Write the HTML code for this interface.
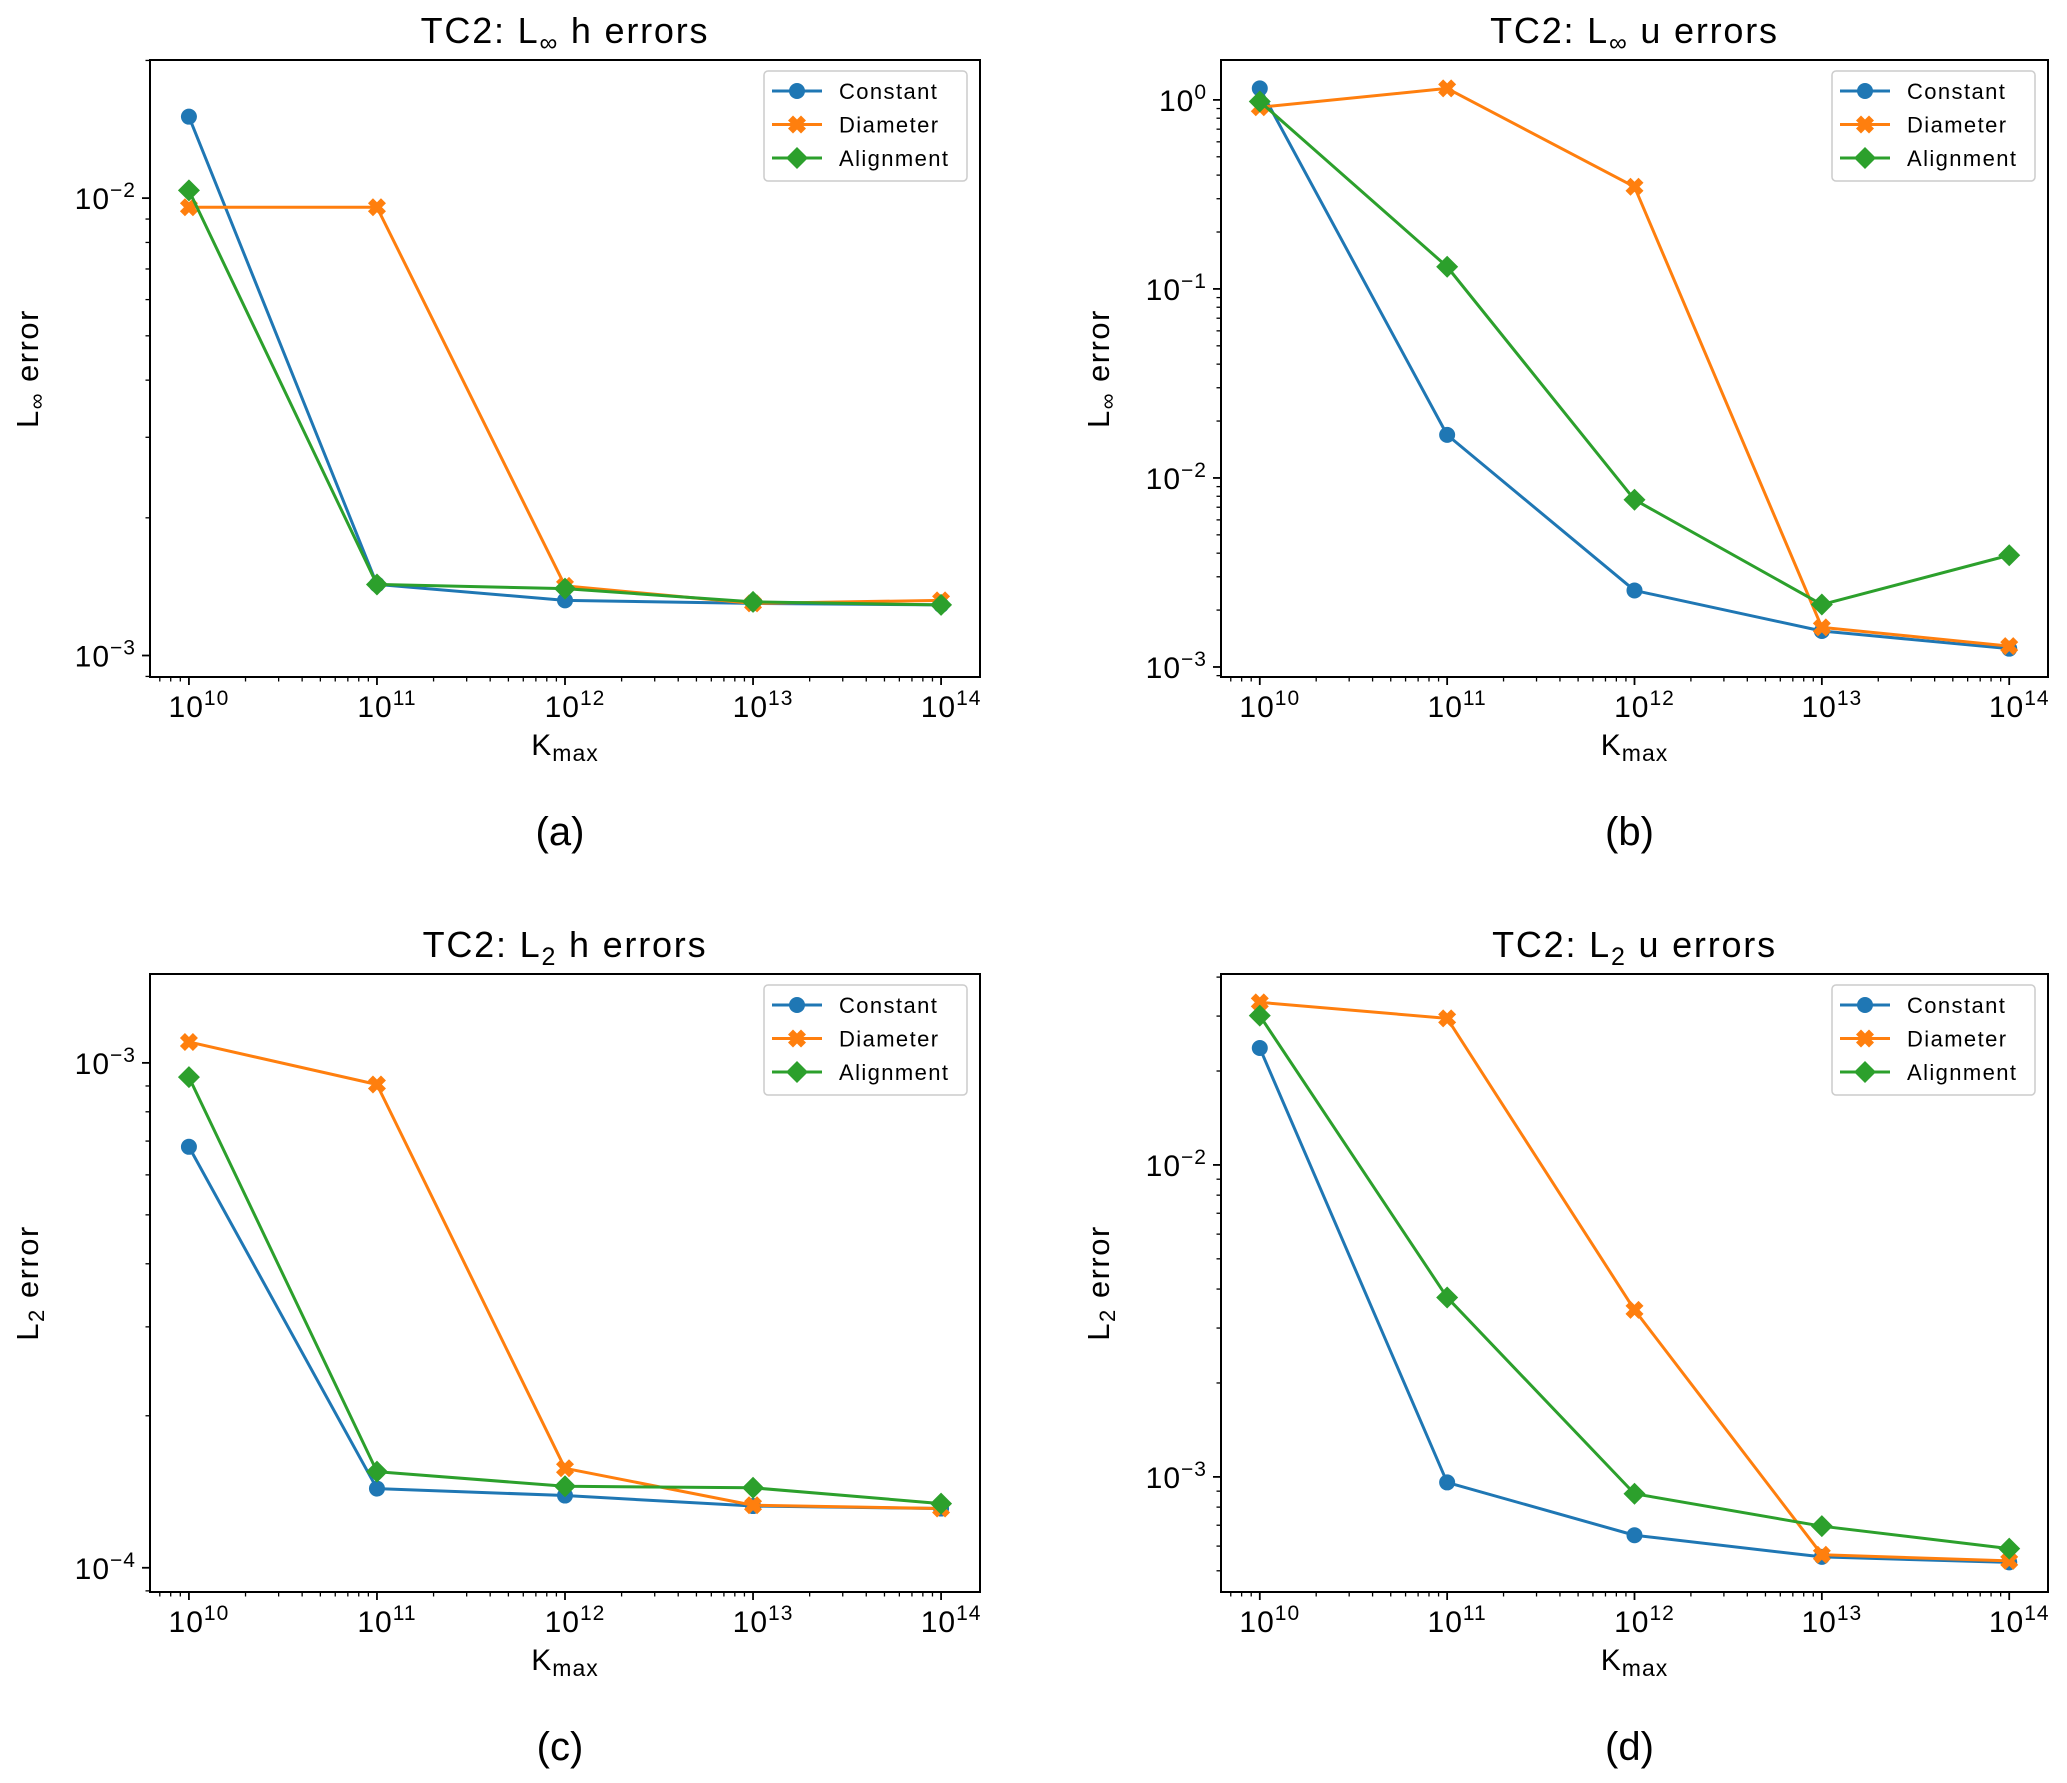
<!DOCTYPE html>
<html><head><meta charset="utf-8"><style>
html,body{margin:0;padding:0;background:#fff;}
svg{display:block;font-family:"Liberation Sans",sans-serif;}
</style></head><body>
<svg id="fig" width="2067" height="1783" viewBox="0 0 2067 1783" xmlns="http://www.w3.org/2000/svg">
<rect width="2067" height="1783" fill="#fff"/>
</svg>
<script>
// data
const kExponents = [10, 11, 12, 13, 14];
const seriesNames = ["Constant", "Diameter", "Alignment"];
// panel (a) L-inf h
const aConstant = [0.01507, 1.43e-3, 1.32e-3, 1.30e-3, 1.29e-3];
const aDiameter = [9.55e-3, 9.55e-3, 1.42e-3, 1.30e-3, 1.32e-3];
const aAlignment = [0.0104, 1.43e-3, 1.40e-3, 1.31e-3, 1.29e-3];
// panel (b) L-inf u
const bConstant = [1.15, 0.0169, 2.54e-3, 1.55e-3, 1.25e-3];
const bDiameter = [0.914, 1.15, 0.347, 1.62e-3, 1.29e-3];
const bAlignment = [0.98, 0.131, 7.67e-3, 2.14e-3, 3.9e-3];
// panel (c) L2 h
const cConstant = [6.82e-4, 1.435e-4, 1.39e-4, 1.325e-4, 1.31e-4];
const cDiameter = [1.10e-3, 9.06e-4, 1.574e-4, 1.33e-4, 1.31e-4];
const cAlignment = [9.37e-4, 1.55e-4, 1.45e-4, 1.44e-4, 1.34e-4];
// panel (d) L2 u
const dConstant = [0.0237, 9.6e-4, 6.5e-4, 5.54e-4, 5.32e-4];
const dDiameter = [0.0332, 0.0295, 3.43e-3, 5.63e-4, 5.38e-4];
const dAlignment = [0.0301, 3.76e-3, 8.83e-4, 6.95e-4, 5.89e-4];
// y tick exponents per panel
const aYTicks = [-3, -2];
const bYTicks = [-3, -2, -1, 0];
const cYTicks = [-4, -3];
const dYTicks = [-3, -2];

const colors = ["#1f77b4", "#ff7f0e", "#2ca02c"];
const NS = "http://www.w3.org/2000/svg";
const svg = document.getElementById("fig");
function mk(tag, attrs, parent) {
  const e = document.createElementNS(NS, tag);
  for (const k in attrs) e.setAttribute(k, attrs[k]);
  (parent || svg).appendChild(e);
  return e;
}

const panels = [
  {id:"a", L:150, R:980, T:60, B:677, ylo:-3.047, yhi:-1.698, yt:aYTicks, data:[aConstant,aDiameter,aAlignment], norm:"∞", qty:"h"},
  {id:"b", L:1221, R:2048, T:60, B:677, ylo:-3.053, yhi:0.211, yt:bYTicks, data:[bConstant,bDiameter,bAlignment], norm:"∞", qty:"u"},
  {id:"c", L:150, R:980, T:974, B:1592, ylo:-4.048, yhi:-2.824, yt:cYTicks, data:[cConstant,cDiameter,cAlignment], norm:"2", qty:"h"},
  {id:"d", L:1221, R:2048, T:974, B:1592, ylo:-3.369, yhi:-1.388, yt:dYTicks, data:[dConstant,dDiameter,dAlignment], norm:"2", qty:"u"}
];

function marker(g, kind, x, y, c) {
  let m;
  if (kind === 0) {
    m = mk("circle", {cx:x, cy:y, r:8, fill:c}, g);
  } else if (kind === 1) {
    const s = 9, t = 5;
    const pts = [[-s,-s+t],[-s+t,-s],[0,-t],[s-t,-s],[s,-s+t],[t,0],[s,s-t],[s-t,s],[0,t],[-s+t,s],[-s,s-t],[-t,0]];
    m = mk("polygon", {points: pts.map(p=>(x+p[0])+","+(y+p[1])).join(" "), fill:c}, g);
  } else {
    const s = 11;
    m = mk("polygon", {points:`${x},${y-s} ${x+s},${y} ${x},${y+s} ${x-s},${y}`, fill:c}, g);
  }
  return m;
}

panels.forEach(p => {
  const g = mk("g", {});
  
  
  const xlo = 9.793, xhi = 14.207;
  const X = v => p.L + (Math.log10(v) - xlo) / (xhi - xlo) * (p.R - p.L);
  const XE = e => p.L + (e - xlo) / (xhi - xlo) * (p.R - p.L);
  const Y = v => p.B - (Math.log10(v) - p.ylo) / (p.yhi - p.ylo) * (p.B - p.T);
  const YE = e => p.B - (e - p.ylo) / (p.yhi - p.ylo) * (p.B - p.T);
  const cx = (p.L + p.R) / 2;

  // title
  const t = mk("text", {x:cx, y:p.T-17, "font-size":36, "letter-spacing":1.8, "text-anchor":"middle", fill:"#000"}, g);
  
  
  t.innerHTML = `TC2: L<tspan font-size="25" dy="8">${p.norm}</tspan><tspan dy="-8"> ${p.qty} errors</tspan>`;

  // x ticks
  const ax = mk("g", {}, g);
  
  
  for (let e = 9; e <= 14; e++) {
    for (let m = 1; m <= 9; m++) {
      const v = m * Math.pow(10, e);
      const lv = Math.log10(v);
      if (lv < xlo || lv > xhi) continue;
      const x = X(v);
      mk("line", {x1:x, x2:x, y1:p.B, y2:p.B + (m===1?8:4.5), stroke:"#000", "stroke-width":m===1?1.8:1.3}, ax);
    }
  }
  kExponents.forEach(e => {
    const x = XE(e);
    const tl = mk("text", {x:x+10, y:p.B+40, "font-size":30, "letter-spacing":1, "text-anchor":"middle", fill:"#000"}, ax);
    
    
    tl.innerHTML = `10<tspan font-size="21" dy="-12">${e}</tspan>`;
  });
  const xl = mk("text", {x:cx, y:p.B+78, "font-size":30, "letter-spacing":1, "text-anchor":"middle", fill:"#000"}, g);
  
  
  xl.innerHTML = `K<tspan font-size="23" dy="6">max</tspan>`;

  // y ticks
  const ay = mk("g", {}, g);
  
  
  for (let e = -5; e <= 1; e++) {
    for (let m = 1; m <= 9; m++) {
      const lv = Math.log10(m) + e;
      if (lv < p.ylo || lv > p.yhi) continue;
      const y = YE(lv);
      mk("line", {x1:p.L, x2:p.L-(m===1?8:4.5), y1:y, y2:y, stroke:"#000", "stroke-width":m===1?1.8:1.3}, ay);
    }
  }
  p.yt.forEach(e => {
    const y = YE(e);
    const tl = mk("text", {x:p.L-14, y:y+11, "font-size":30, "letter-spacing":1, "text-anchor":"end", fill:"#000"}, ay);
    
    
    tl.innerHTML = `10<tspan font-size="21" dy="-12">${e < 0 ? "−" + (-e) : e}</tspan>`;
  });
  const yl = mk("text", {x:0, y:0, "font-size":31, "letter-spacing":1.5, "text-anchor":"middle", fill:"#000", transform:`translate(${p.L-112},${(p.T+p.B)/2}) rotate(-90)`}, g);
  
  
  yl.innerHTML = `L<tspan font-size="22" dy="6">${p.norm}</tspan><tspan dy="-6"> error</tspan>`;

  // series
  p.data.forEach((arr, si) => {
    const sg = mk("g", {}, g);
    
    
    const pts = arr.map((v, i) => X(Math.pow(10, kExponents[i])) + "," + Y(v)).join(" ");
    mk("polyline", {points:pts, fill:"none", stroke:colors[si], "stroke-width":3, "stroke-linejoin":"round"}, sg);
    arr.forEach((v, i) => {
      const m = marker(sg, si, X(Math.pow(10, kExponents[i])), Y(v), colors[si]);
      
      
    });
  });

  // frame
  mk("rect", {x:p.L, y:p.T, width:p.R-p.L, height:p.B-p.T, fill:"none", stroke:"#000", "stroke-width":2}, g);

  // legend
  const lg = mk("g", {}, g);
  
  
  const lx = p.R - 216, ly = p.T + 11;
  mk("rect", {x:lx, y:ly, width:203, height:110, rx:4, fill:"#fff", "fill-opacity":0.8, stroke:"#cccccc", "stroke-width":1.5}, lg);
  seriesNames.forEach((n, si) => {
    const y = ly + 20 + si * 33.5;
    const eg = mk("g", {}, lg);
    
    
    mk("line", {x1:lx+8, x2:lx+58, y1:y, y2:y, stroke:colors[si], "stroke-width":3}, eg);
    marker(eg, si, lx+33, y, colors[si]);
    const tx = mk("text", {x:lx+75, y:y+8, "font-size":22, "letter-spacing":1.4, fill:"#000"}, eg);
    tx.textContent = n;
  });

  // panel letter
  const pl = mk("text", {x:cx-5, y:p.B+168, "font-size":40, "text-anchor":"middle", fill:"#000"}, g);
  
  
  pl.textContent = "(" + p.id + ")";
});
</script>
</body></html>
